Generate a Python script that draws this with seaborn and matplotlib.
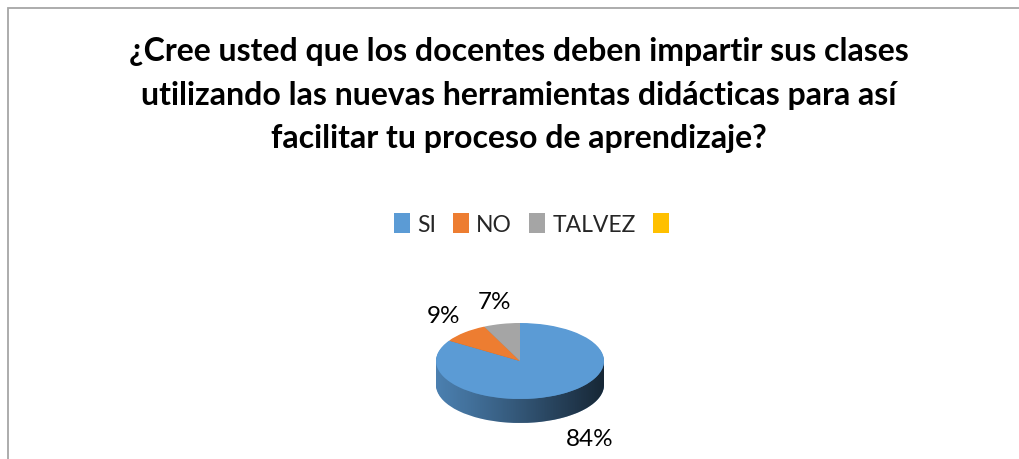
import matplotlib.pyplot as plt
from matplotlib import patches
import seaborn as sns
import numpy as np

# datos de la encuesta
categorias = ['SI', 'NO', 'TALVEZ', '']
porcentajes = [84, 9, 7, 0]
colores = ['#5B9BD5', '#ED7D31', '#A5A5A5', '#FFC000']
titulo = ('¿Cree usted que los docentes deben impartir sus clases\n'
          'utilizando las nuevas herramientas didácticas para así\n'
          'facilitar tu proceso de aprendizaje?')

sns.set_theme(style='white')
plt.rcParams['font.family'] = ['Lato', 'DejaVu Sans']

W, H = 1019, 460
fig = plt.figure(figsize=(W / 100, H / 100), dpi=100)

# marco gris (solo izquierda y arriba visibles)
fig.patches.append(patches.Rectangle((8 / W, -0.1), 1.2, 1.1 - 9 / H, transform=fig.transFigure,
                                     fill=False, edgecolor='#a6a6a6', linewidth=1.3))

fig.text(519 / W, 1 - 95 / H, titulo, ha='center', va='center', fontsize=23,
         fontweight='bold', color='#000000', linespacing=1.6)

# leyenda
handles = [patches.Patch(facecolor=c, edgecolor='none') for c in colores]
fig.legend(handles, categorias, loc='center', bbox_to_anchor=(535 / W, 1 - 225 / H), ncol=4,
           frameon=False, fontsize=16.5, handlelength=0.7, handleheight=1.0,
           handletextpad=0.3, columnspacing=0.75)

# ejes del pastel: circulo unitario -> elipse de 84 x 38 px
rx, ry = 84, 38
cx, cy = 520, 362
ax_l, ax_w = 400, 240
ax_top, ax_bot = 280, 460
ax = fig.add_axes([ax_l / W, 1 - ax_bot / H, ax_w / W, (ax_bot - ax_top) / H])

prof = 24 / ry
valores = [v for v in porcentajes if v > 0]
cols = colores[:len(valores)]

# lateral del pastel
oscuros = [tuple(np.array(plt.matplotlib.colors.to_rgb(c)) * 0.82) for c in cols]
for off in np.linspace(prof, 0.02, 25):
    ax.pie(valores, colors=oscuros, startangle=90, counterclock=False,
           center=(0, -off), radius=1, frame=True, wedgeprops=dict(linewidth=0))

# sombreado del lateral
t = np.linspace(np.pi, 2 * np.pi, 100)
pts = np.vstack([np.c_[np.cos(t), np.sin(t)], np.c_[np.cos(t[::-1]), np.sin(t[::-1]) - prof]])
clip = patches.Polygon(pts, closed=True, transform=ax.transData, facecolor='none', edgecolor='none')
ax.add_patch(clip)
grad = np.zeros((2, 200, 4))
grad[..., 3] = np.linspace(0.0, 0.72, 200) ** 1.1
img = ax.imshow(grad, extent=(-1, 1, -1 - prof, 0), aspect='auto', zorder=3)
img.set_clip_path(clip)

# cara superior
cunas, _ = ax.pie(valores, colors=cols, startangle=90, counterclock=False,
                  radius=1, frame=True, wedgeprops=dict(linewidth=0))
for w in cunas:
    w.set_zorder(4)

# etiquetas de porcentaje
for w, v in zip(cunas, valores):
    ang = np.deg2rad((w.theta1 + w.theta2) / 2)
    x = 1.38 * np.cos(ang)
    y = 1.6 * np.sin(ang)
    if y < 0:
        x *= 1.25
        y -= prof
    ax.text(x, y, f'{v}%', ha='center', va='center', fontsize=17.5, color='#000000', zorder=5)

ax.set_xlim((ax_l - cx) / rx, (ax_l + ax_w - cx) / rx)
ax.set_ylim(-(ax_bot - cy) / ry, (cy - ax_top) / ry)
ax.set_aspect('auto')
ax.axis('off')

fig.savefig('out.png', dpi=100, facecolor='white')
